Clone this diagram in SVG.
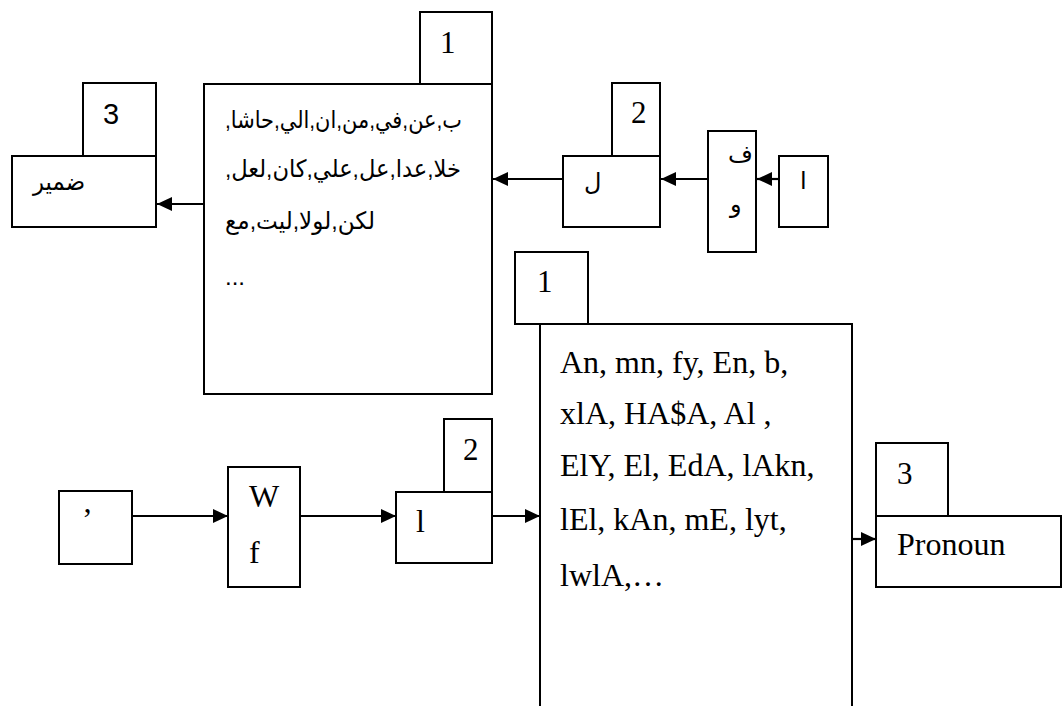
<svg xmlns="http://www.w3.org/2000/svg" width="1063" height="706" viewBox="0 0 1063 706">
  <style>
    .box { fill: #fff; stroke: #000; stroke-width: 2; }
    .open { fill: none; stroke: #000; stroke-width: 2; }
    .link { fill: none; stroke: #000; stroke-width: 2.2; marker-end: url(#head); }
    .lat { font-family: "Liberation Serif", "Times New Roman", serif; font-size: 32px; fill: #000; }
    .num { font-family: "Liberation Serif", "Times New Roman", serif; font-size: 31px; fill: #000; }
    .sans { font-family: "Liberation Sans", Arial, sans-serif; font-size: 29px; fill: #000; }
    .ar { font-family: "Liberation Sans", "DejaVu Sans", "Noto Sans", sans-serif; font-size: 24px; fill: #000; }
  </style>
  <defs>
    <marker id="head" markerUnits="userSpaceOnUse" markerWidth="15" markerHeight="14" refX="15" refY="7" orient="auto">
      <path d="M0,0 L15,7 L0,14 z" fill="#000"/>
    </marker>
  </defs>
  <rect width="1063" height="706" fill="#fff"/>

  <!-- Arabic chain (top) -->
  <g id="ar-pronoun">
    <rect class="box" x="83" y="83" width="73" height="73"/>
    <text class="sans" x="103" y="124">3</text>
    <rect class="box" x="12" y="156" width="144" height="71"/>
    <text class="ar" x="33" y="190" textLength="52" lengthAdjust="spacingAndGlyphs">ضمير</text>
  </g>

  <g id="ar-particles">
    <rect class="box" x="420" y="12" width="72" height="72"/>
    <text class="num" x="440" y="53">1</text>
    <rect class="box" x="204" y="84" width="288" height="310"/>
    <text class="ar" x="225" y="128" textLength="237" lengthAdjust="spacingAndGlyphs">,ب,عن,في,من,ان,الي,حاشا</text>
    <text class="ar" x="225" y="177" textLength="236" lengthAdjust="spacingAndGlyphs">,خلا,عدا,عل,علي,كان,لعل</text>
    <text class="ar" x="225" y="229" textLength="150" lengthAdjust="spacingAndGlyphs">لكن,لولا,ليت,مع</text>
    <text class="ar" x="225" y="285">...</text>
  </g>

  <g id="ar-lam">
    <rect class="box" x="612" y="83" width="48" height="73"/>
    <text class="num" x="631" y="123">2</text>
    <rect class="box" x="563" y="156" width="97" height="71"/>
    <text class="ar" x="584" y="190">ل</text>
  </g>

  <g id="ar-conj">
    <rect class="box" x="708" y="131" width="48" height="121"/>
    <text class="ar" x="728" y="162">ف</text>
    <text class="ar" x="730" y="212">و</text>
  </g>

  <g id="ar-alef">
    <rect class="box" x="779" y="156" width="49" height="71"/>
    <text class="ar" x="800" y="189">ا</text>
  </g>

  <!-- Transliterated chain (bottom) -->
  <g id="tr-quote">
    <rect class="box" x="59" y="491" width="73" height="73"/>
    <text class="lat" x="82" y="530">’</text>
  </g>

  <g id="tr-conj">
    <rect class="box" x="228" y="467" width="72" height="120"/>
    <text class="lat" x="249" y="507">W</text>
    <text class="lat" x="249" y="563">f</text>
  </g>

  <g id="tr-lam">
    <rect class="box" x="444" y="419" width="48" height="73"/>
    <text class="num" x="463" y="460">2</text>
    <rect class="box" x="396" y="492" width="96" height="71"/>
    <text class="lat" x="416" y="532">l</text>
  </g>

  <g id="tr-particles">
    <path class="open" d="M540,706 V324 H852 V706"/>
    <rect class="box" x="515" y="252" width="73" height="72"/>
    <text class="num" x="537" y="292">1</text>
    <text class="lat" x="560" y="373">An, mn, fy, En, b,</text>
    <text class="lat" x="560" y="424">xlA, HA$A, Al ,</text>
    <text class="lat" x="560" y="476">ElY, El, EdA, lAkn,</text>
    <text class="lat" x="560" y="530">lEl, kAn, mE, lyt,</text>
    <text class="lat" x="560" y="586">lwlA,…</text>
  </g>

  <g id="tr-pronoun">
    <rect class="box" x="876" y="443" width="72" height="73"/>
    <text class="num" x="897" y="484">3</text>
    <rect class="box" x="876" y="516" width="185" height="71"/>
    <text class="lat" x="897" y="555">Pronoun</text>
  </g>

  <!-- Connectors -->
  <g id="connectors">
    <path class="link" d="M779,179 H757"/>
    <path class="link" d="M708,179 H661"/>
    <path class="link" d="M563,179 H493"/>
    <path class="link" d="M204,204 H157"/>
    <path class="link" d="M132,516 H228"/>
    <path class="link" d="M300,516 H396"/>
    <path class="link" d="M492,516 H540"/>
    <path class="link" d="M852,539 H876"/>
  </g>
</svg>
